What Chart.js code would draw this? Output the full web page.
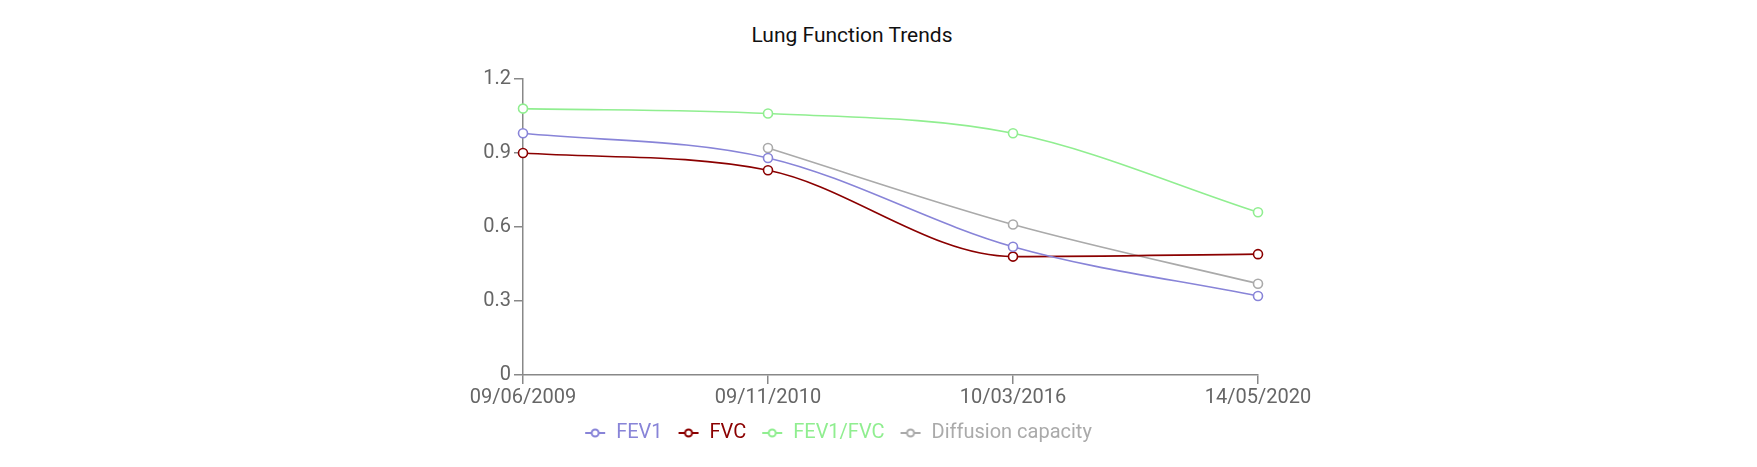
<!DOCTYPE html>
<html>
<head>
<meta charset="utf-8">
<title>Lung Function Trends</title>
<script src="https://cdn.jsdelivr.net/npm/chart.js@4/dist/chart.umd.min.js"></script>
<style>
    body { margin: 0; background: #fff; width: 1757px; height: 467px; overflow: hidden; position: relative; }
    #title { position: absolute; left: 652px; top: 23px; width: 400px; text-align: center;
             font-family: Roboto, sans-serif; font-size: 21px; color: #111; line-height: 24px; }
    #wrap { position: absolute; left: 364px; top: 0; width: 948px; height: 467px; }
</style>
</head>
<body>
<div id="title">Lung Function Trends</div>
<div id="wrap"><canvas id="myChart"></canvas></div>
<script>
var xDates = ['09/06/2009', '09/11/2010', '10/03/2016', '14/05/2020'];
var fev1 = [0.98, 0.88, 0.52, 0.32];
var fvc = [0.90, 0.83, 0.48, 0.49];
var fev1Fvc = [1.08, 1.06, 0.98, 0.66];
var diffusion = [null, 0.92, 0.61, 0.37];
var yTicks = [0, 0.3, 0.6, 0.9, 1.2];

var FONT = 'Roboto, sans-serif';

// small legend icon: line with a hollow circle
const legendIcon = (color) => {
    var c = document.createElement('canvas');
    c.width = 22; c.height = 12;
    var g = c.getContext('2d');
    g.strokeStyle = color;
    g.lineWidth = 2;
    g.beginPath(); g.moveTo(1, 6); g.lineTo(21, 6); g.stroke();
    g.beginPath(); g.arc(11, 6, 3.5, 0, Math.PI * 2);
    g.fillStyle = '#fff'; g.fill(); g.stroke();
    return c;
};

const makeSet = (label, data, color) => ({
    label: label,
    data: data,
    borderColor: color,
    backgroundColor: color,
    borderWidth: 1.6,
    fill: false,
    cubicInterpolationMode: 'monotone',
    pointRadius: 4.5,
    pointHoverRadius: 5,
    pointBorderWidth: 1.6,
    pointBackgroundColor: '#fff',
    pointBorderColor: color,
    pointStyle: 'circle',
    legendIcon: legendIcon(color)
});

var ctx = document.getElementById('myChart').getContext('2d');
var myChart = new Chart(ctx, {
    type: 'line',
    data: {
        labels: xDates,
        datasets: [
            makeSet('FEV1', fev1, '#8884d8'),
            makeSet('FVC', fvc, '#8b0000'),
            makeSet('FEV1/FVC', fev1Fvc, '#90ee90'),
            makeSet('Diffusion capacity', diffusion, '#aaaaaa')
        ]
    },
    options: {
        responsive: true,
        maintainAspectRatio: false,
        animation: false,
        layout: { padding: { top: 79, bottom: 14 } },
        plugins: {
            title: { display: false },
            tooltip: { enabled: false },
            legend: {
                position: 'bottom',
                labels: {
                    usePointStyle: true,
                    pointStyleWidth: 22,
                    padding: 15,
                    font: { family: FONT, size: 20 },
                    generateLabels: (chart) => chart.data.datasets.map((ds, i) => ({
                        text: ds.label,
                        fontColor: ds.borderColor,
                        strokeStyle: ds.borderColor,
                        fillStyle: '#fff',
                        pointStyle: ds.legendIcon,
                        datasetIndex: i,
                        hidden: false,
                        lineWidth: 0
                    }))
                }
            }
        },
        scales: {
            x: {
                offset: false,
                grid: { display: true, drawOnChartArea: false, drawTicks: true, tickLength: 9, color: '#888', lineWidth: 1.5 },
                border: { display: true, color: '#888', width: 1.5 },
                ticks: { color: '#666', padding: 2, maxRotation: 0, font: { family: FONT, size: 20 } },
                afterFit: (scale) => { scale.paddingLeft = 0; scale.paddingRight = 54; scale.height -= 4; }
            },
            y: {
                min: 0,
                max: 1.2,
                afterBuildTicks: (scale) => { scale.ticks = yTicks.map(v => ({ value: v })); },
                grid: { display: true, drawOnChartArea: false, drawTicks: true, tickLength: 9, color: '#888', lineWidth: 1.5 },
                border: { display: true, color: '#888', width: 1.5 },
                ticks: {
                    color: '#666', padding: 3, font: { family: FONT, size: 20 },
                    callback: (v) => String(+(+v).toFixed(1))
                },
                afterFit: (scale) => { scale.width = 159; }
            }
        }
    }
});
</script>
</body>
</html>
